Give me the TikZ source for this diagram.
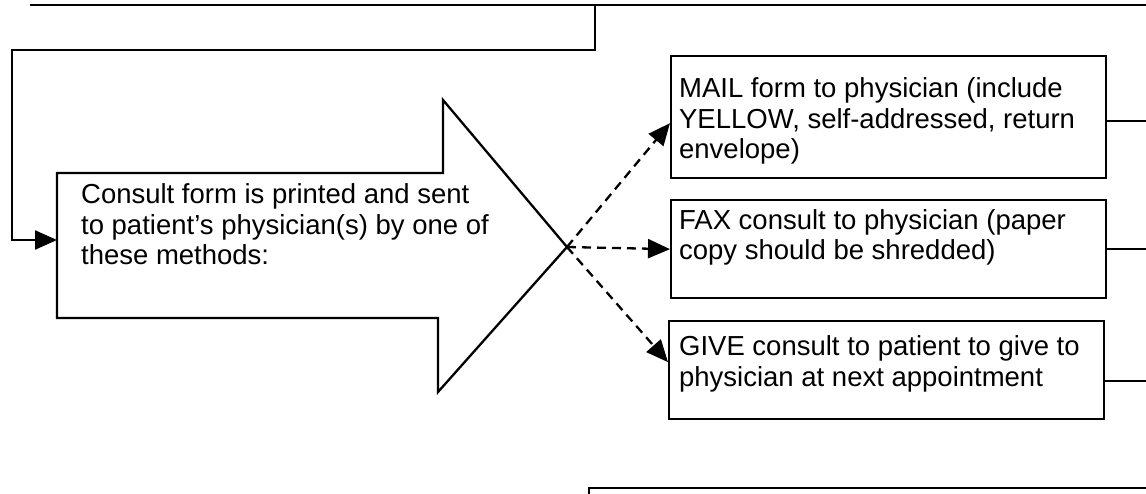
\documentclass[tikz,border=0pt]{standalone}
\usepackage{fontspec}
\setmainfont{Liberation Sans}
\usetikzlibrary{arrows.meta,calc}
\begin{document}
\begin{tikzpicture}[x=1pt,y=-1pt,line width=2.3pt,
  box/.style={draw,rectangle,line width=2.3pt,inner sep=0pt,anchor=north west},
  txt/.style={anchor=base west,align=left,inner sep=0pt,font=\fontsize{27.5}{30.5}\selectfont},
  tipa/.style={-{Triangle[length=22pt,width=19pt]}},
  dsh/.style={dash pattern=on 9pt off 6pt}]
\useasboundingbox (0,0) rectangle (1146,494);
% boxes on the right
\node[box,minimum width=435pt,minimum height=122pt] (mail) at (670,55) {};
\node[box,minimum width=435pt,minimum height=98pt] (fax) at (670,199) {};
\node[box,minimum width=435pt,minimum height=98pt] (give) at (668,320) {};
% (base anchor = baseline of the last line)
\node[txt] (mailtext) at (678,159) {MAIL form to physician (include\\YELLOW, self-addressed, return\\envelope)};
\node[txt] (faxtext) at (678,260) {FAX consult to physician (paper\\copy should be shredded)};
\node[txt] (givetext) at (678,386) {GIVE consult to patient to give to\\physician at next appointment};
% big arrow
\coordinate (tip) at (567,247);
\draw (57,173) -- (443,173) -- (443,100) -- (tip) -- (438,392) -- (438,318) -- (57,318) -- cycle;
\node[txt] (consult) at (80,265) {Consult form is printed and sent\\to patient’s physician(s) by one of\\these methods:};
% top box edge and connector
\coordinate (top) at (595,5);
\coordinate (cin) at (57,240);
\draw (30,5) -- (1146,5);
\draw[tipa] (top) -- (595,50) -- (12,50) -- (12,240) -- (cin);
% dashed arrows
\draw[dsh,tipa] (tip) -- ([yshift=-6pt]mail.west);
\draw[dsh,tipa] (tip) -- (fax.west);
\draw[dsh,tipa] (tip) -- ([yshift=8pt]give.west);
% lines leaving to the right
\draw ([yshift=-4pt]mail.east) -- ++(50,0);
\draw (fax.east) -- ++(50,0);
\draw ([yshift=-11pt]give.east) -- ++(50,0);
% bottom box edge
\coordinate (bl) at (589,500);
\draw (bl) -- (589,488) -- (1150,488);
\end{tikzpicture}
\end{document}
